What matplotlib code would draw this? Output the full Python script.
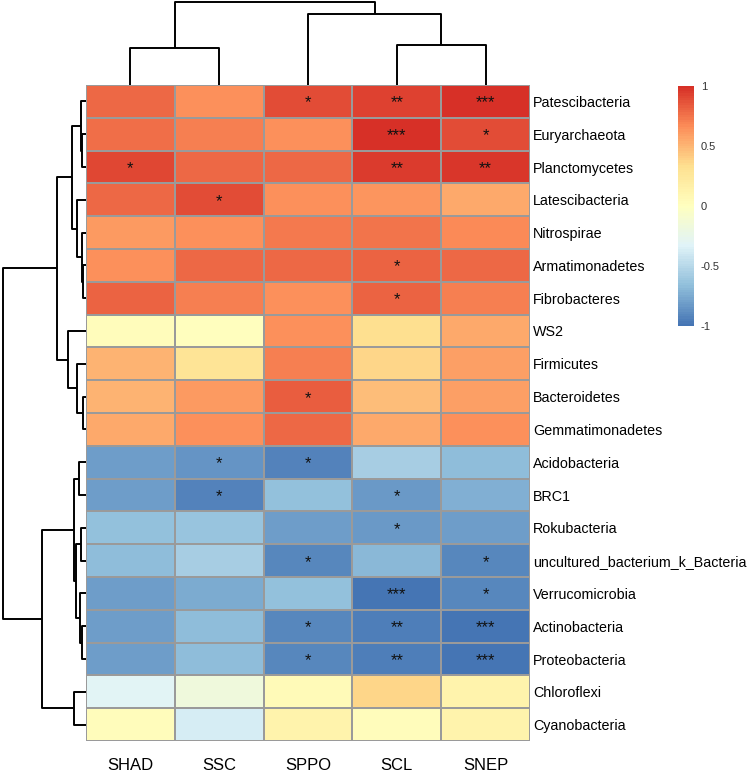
import numpy as np
import matplotlib
matplotlib.use("Agg")
import matplotlib.pyplot as plt
from matplotlib.colors import LinearSegmentedColormap, Normalize
from matplotlib.cm import ScalarMappable

plt.rcParams['font.family'] = ['Liberation Sans', 'DejaVu Sans']

# data
samples = ["SHAD", "SSC", "SPPO", "SCL", "SNEP"]
taxa = ["Patescibacteria", "Euryarchaeota", "Planctomycetes", "Latescibacteria",
        "Nitrospirae", "Armatimonadetes", "Fibrobacteres", "WS2", "Firmicutes",
        "Bacteroidetes", "Gemmatimonadetes", "Acidobacteria", "BRC1", "Rokubacteria",
        "uncultured_bacterium_k_Bacteria", "Verrucomicrobia", "Actinobacteria",
        "Proteobacteria", "Chloroflexi", "Cyanobacteria"]

corr = [
    [0.78, 0.65, 0.88, 0.93, 0.99],
    [0.76, 0.71, 0.65, 0.99, 0.89],
    [0.90, 0.79, 0.79, 0.94, 0.97],
    [0.78, 0.89, 0.64, 0.63, 0.55],
    [0.61, 0.64, 0.72, 0.75, 0.67],
    [0.65, 0.79, 0.79, 0.81, 0.79],
    [0.80, 0.71, 0.65, 0.81, 0.71],
    [0.02, 0.01, 0.65, 0.32, 0.55],
    [0.51, 0.28, 0.71, 0.37, 0.59],
    [0.51, 0.61, 0.83, 0.47, 0.59],
    [0.55, 0.64, 0.79, 0.55, 0.65],
    [-0.80, -0.86, -0.92, -0.57, -0.67],
    [-0.80, -0.92, -0.66, -0.84, -0.73],
    [-0.66, -0.64, -0.80, -0.84, -0.80],
    [-0.67, -0.56, -0.91, -0.69, -0.91],
    [-0.82, -0.75, -0.66, -0.99, -0.91],
    [-0.81, -0.67, -0.91, -0.95, -0.99],
    [-0.81, -0.67, -0.91, -0.95, -0.99],
    [-0.32, -0.17, 0.04, 0.37, 0.12],
    [0.03, -0.37, 0.12, 0.03, 0.12],
]

stars = [
    ["", "", "*", "**", "***"],
    ["", "", "", "***", "*"],
    ["*", "", "", "**", "**"],
    ["", "*", "", "", ""],
    ["", "", "", "", ""],
    ["", "", "", "*", ""],
    ["", "", "", "*", ""],
    ["", "", "", "", ""],
    ["", "", "", "", ""],
    ["", "", "*", "", ""],
    ["", "", "", "", ""],
    ["", "*", "*", "", ""],
    ["", "*", "", "*", ""],
    ["", "", "", "*", ""],
    ["", "", "*", "", "*"],
    ["", "", "", "***", "*"],
    ["", "", "*", "**", "***"],
    ["", "", "*", "**", "***"],
    ["", "", "", "", ""],
    ["", "", "", "", ""],
]

# linkage in display order: (child a, child b, height); nodes numbered after leaves
row_merges = [
    (1, 2, 3.7), (0, 20, 5.0), (5, 6, 3.3), (4, 22, 4.3), (3, 23, 8.7),
    (21, 24, 13.7), (9, 10, 3.3), (8, 26, 9.3), (7, 27, 17.7), (25, 28, 28.7),
    (11, 12, 7.0), (13, 14, 5.0), (16, 17, 4.5), (15, 32, 6.0), (31, 33, 10.0),
    (30, 34, 12.0), (18, 19, 12.0), (35, 36, 44.3), (29, 37, 83.3),
]
col_merges = [(0, 1, 36.7), (3, 4, 40.0), (2, 6, 71.0), (5, 7, 83.3)]

W, H = 748, 774
fig = plt.figure(figsize=(W / 100, H / 100), dpi=100)


def px_axes(x0, y0, x1, y1):
    return fig.add_axes([x0 / W, 1 - y1 / H, (x1 - x0) / W, (y1 - y0) / H])


cmap = LinearSegmentedColormap.from_list(
    "rdylbu", ["#4575B4", "#91BFDB", "#E0F3F8", "#FFFFBF", "#FEE090", "#FC8D59", "#D73027"], N=100)

hm_l, hm_r, hm_t, hm_b = 86, 530, 85, 741
ax = px_axes(hm_l, hm_t, hm_r, hm_b)
vals = np.array(corr)
ax.pcolormesh(vals, cmap=cmap, vmin=-1, vmax=1, edgecolors="#9a9a9a", linewidth=1.2)
ax.set_xlim(0, len(samples))
ax.set_ylim(len(taxa), 0)
for i in range(len(taxa)):
    for j in range(len(samples)):
        if stars[i][j]:
            ax.text(j + 0.5, i + 0.55, stars[i][j], ha="center", va="center",
                    fontsize=12, color="#111111")
ax.set_xticks(np.arange(len(samples)) + 0.5)
ax.set_xticklabels(samples, fontsize=12)
ax.set_yticks(np.arange(len(taxa)) + 0.5)
ax.set_yticklabels(taxa, fontsize=10.3)
ax.yaxis.tick_right()
ax.tick_params(axis="x", length=0, pad=12)
ax.tick_params(axis="y", length=0, pad=2)
for s in ax.spines.values():
    s.set_visible(False)


def draw_tree(axd, merges, n, vertical):
    pos = {i: i + 0.5 for i in range(n)}
    hgt = {i: 0.0 for i in range(n)}
    for k, (a, b, h) in enumerate(merges):
        xs = [hgt[a], h, h, hgt[b]]
        ys = [pos[a], pos[a], pos[b], pos[b]]
        if vertical:
            axd.plot(ys, xs, color="black", lw=1.4, solid_capstyle="butt")
        else:
            axd.plot(xs, ys, color="black", lw=1.4, solid_capstyle="butt")
        pos[n + k] = (pos[a] + pos[b]) / 2
        hgt[n + k] = h


# column dendrogram
axc = px_axes(hm_l, 0, hm_r, hm_t)
draw_tree(axc, col_merges, len(samples), True)
axc.set_xlim(0, len(samples))
axc.set_ylim(0, 85)
axc.axis("off")

# row dendrogram
axr = px_axes(0, hm_t, hm_l, hm_b)
draw_tree(axr, row_merges, len(taxa), False)
axr.set_ylim(len(taxa), 0)
axr.set_xlim(86, 0)
axr.axis("off")

# colour legend
cax = px_axes(678, 86, 694, 326)
cb = fig.colorbar(ScalarMappable(norm=Normalize(-1, 1), cmap=cmap), cax=cax,
                  ticks=[-1, -0.5, 0, 0.5, 1])
cb.outline.set_visible(False)
cb.ax.set_yticklabels(["-1", "-0.5", "0", "0.5", "1"])
cax.tick_params(length=0, pad=5, labelsize=8, labelcolor="#333333")

fig.savefig("out.png", dpi=100)
